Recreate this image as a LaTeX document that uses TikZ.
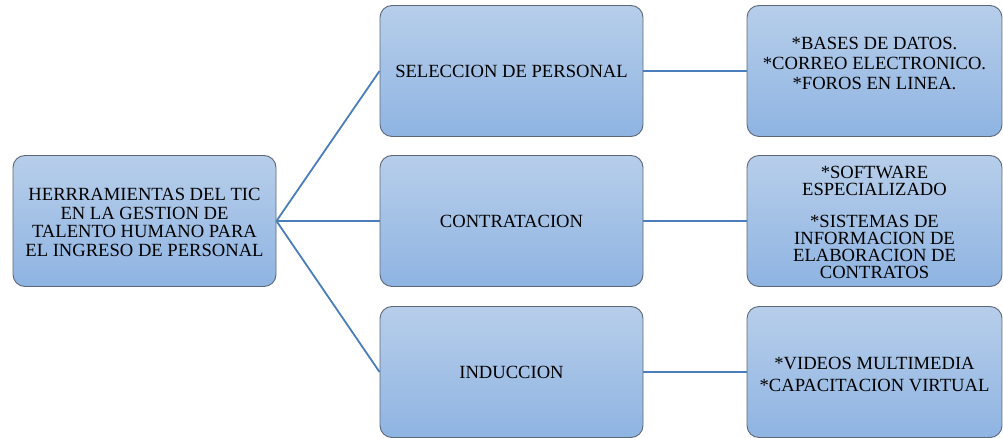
\documentclass[tikz,border=0pt]{standalone}
\usepackage{fontspec}
\setmainfont{Liberation Serif}
\definecolor{boxtop}{RGB}{183,206,234}
\definecolor{boxbot}{RGB}{143,180,226}
\definecolor{boxborder}{RGB}{92,104,120}
\definecolor{linkcol}{RGB}{74,126,187}
\tikzset{
  box/.style={draw=boxborder, line width=0.9pt, rounded corners=12pt,
    top color=boxtop, bottom color=boxbot, minimum width=263pt,
    minimum height=131pt, inner sep=0pt},
  rbox/.style={box, minimum width=255pt},
  txt/.style={align=center, inner sep=0pt, text=black},
  link/.style={draw=linkcol, line width=1.8pt}
}
\begin{document}
\begin{tikzpicture}[x=1pt,y=-1pt]
\useasboundingbox (0,0) rectangle (1003,438);
% boxes
\node[box] (root) at (144.5,221) {};
\node[box] (sel) at (511.5,71) {};
\node[box] (con) at (511.5,221) {};
\node[box] (ind) at (511.5,372) {};
\node[rbox] (r1) at (874.5,71) {};
\node[rbox] (r2) at (874.5,221) {};
\node[rbox] (r3) at (874.5,372) {};
% connectors
\draw[link] (root.east) -- (sel.west);
\draw[link] (root.east) -- (con.west);
\draw[link] (root.east) -- (ind.west);
\draw[link] (sel.east) -- (r1.west);
\draw[link] (con.east) -- (r2.west);
\draw[link] (ind.east) -- (r3.west);
% texts
\node[txt, font=\fontsize{18.6}{18.4}\selectfont] (troot) at (144.5,222.5)
  {HERRRAMIENTAS DEL TIC\\EN LA GESTION DE\\TALENTO HUMANO PARA\\EL INGRESO DE PERSONAL};
\node[txt, font=\fontsize{18.6}{18}\selectfont] (tsel) at (511.5,71) {SELECCION DE PERSONAL};
\node[txt, font=\fontsize{18.6}{18}\selectfont] (tcon) at (511.5,221.5) {CONTRATACION};
\node[txt, font=\fontsize{18.6}{18}\selectfont] (tind) at (511.5,372) {INDUCCION};
\node[txt, font=\fontsize{18.6}{20}\selectfont] (tr1) at (874.5,63)
  {*BASES DE DATOS.\\*CORREO ELECTRONICO.\\*FOROS EN LINEA.};
\node[txt, font=\fontsize{18.6}{17}\selectfont] (tr2) at (874.5,222)
  {*SOFTWARE\\ESPECIALIZADO\\[15pt]*SISTEMAS DE\\INFORMACION DE\\ELABORACION DE\\CONTRATOS};
\node[txt, font=\fontsize{18.6}{22}\selectfont] (tr3) at (874.5,374)
  {*VIDEOS MULTIMEDIA\\*CAPACITACION VIRTUAL};
\end{tikzpicture}
\end{document}
